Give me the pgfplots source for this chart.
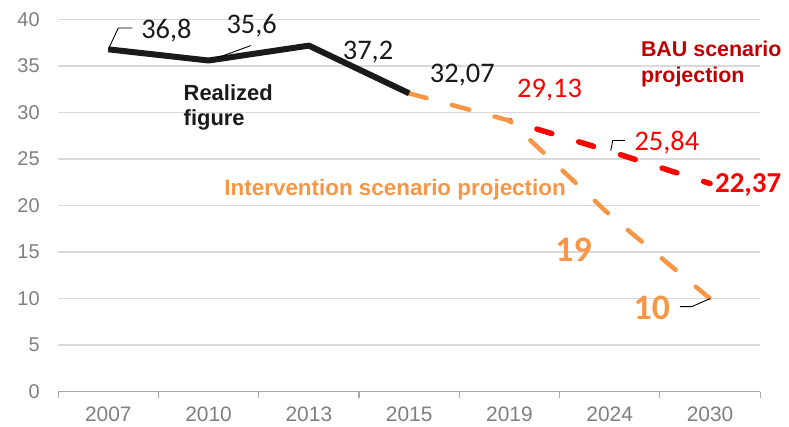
\documentclass[border=0pt]{standalone}
\usepackage{pgfplots}
\pgfplotsset{compat=1.18}
\usepackage{fontspec}
\setmainfont{Liberation Sans}
\newfontfamily\calib{Carlito}
\definecolor{tickgray}{HTML}{7F7F7F}
\definecolor{gridgray}{HTML}{D9D9D9}
\definecolor{axgray}{HTML}{A6A6A6}
\definecolor{orng}{HTML}{F79646}
\definecolor{bau}{HTML}{FF0000}
\definecolor{baudark}{HTML}{C00000}
\definecolor{blk}{HTML}{1A1A1A}
\begin{document}
\begin{tikzpicture}[x=1bp,y=1bp]
\useasboundingbox (0,0) rectangle (789,426);
\begin{axis}[
  at={(58,37)}, anchor=south west,
  scale only axis, width=702bp, height=372bp,
  xmin=-0.5, xmax=6.5, ymin=0, ymax=40,
  clip=false,
  axis x line=bottom, axis y line=left,
  y axis line style={draw=none},
  x axis line style={-, draw=axgray, line width=1.2bp},
  xtick={0,...,6},
  xticklabels={2007,2010,2013,2015,2019,2024,2030},
  minor xtick={-0.5,0.5,...,6.5},
  major tick length=0pt,
  minor tick length=6bp,
  xtick align=outside,
  tick style={draw=axgray, line width=1.2bp},
  ytick={0,5,...,40},
  ymajorgrids,
  grid style={draw=gridgray, line width=1.3bp},
  /pgf/number format/assume math mode=true,
  xticklabel style={font=\fontsize{21}{24}\selectfont, text=tickgray, yshift=-12bp},
  yticklabel style={font=\fontsize{20}{24}\selectfont, text=tickgray, xshift=-15bp},
]
% BAU
\addplot[bau, line width=5.5bp, line cap=round, dash pattern=on 15.5bp off 28.2bp, dash phase=15bp] coordinates {(4,29.13) (5,25.84) (6,22.37)};
% Intervention
\addplot[orng, line width=4.5bp, line cap=round, dash pattern=on 18bp off 26.2bp] coordinates {(3,32.07) (4,29.13) (5,19) (6,10)};
% Realized
\addplot[blk, line width=6bp, line join=round] coordinates {(0,36.8) (1,35.6) (2,37.2) (3,32.07)};

% leader lines
\draw[black, line width=0.9bp] (axis cs:0,36.8) -- (axis cs:0.1,39.1) -- (axis cs:0.24,39.1);
\draw[black, line width=0.9bp] (axis cs:1.09,35.9) -- (axis cs:1.42,37.2);
\draw[black, line width=0.9bp] (axis cs:5.01,25.9) -- (axis cs:5.03,27.0) -- (axis cs:5.15,27.0);
\draw[black, line width=0.9bp] (axis cs:5.70,9.14) -- (axis cs:5.82,9.14) -- (axis cs:6.0,10.0);

% value labels
\node[font=\calib\fontsize{28.5}{30}\selectfont, text=blk] at (axis cs:0.58,38.8) {36,8};
\node[font=\calib\fontsize{28.5}{30}\selectfont, text=blk] at (axis cs:1.43,39.35) {35,6};
\node[font=\calib\fontsize{28.5}{30}\selectfont, text=blk] at (axis cs:2.59,36.45) {37,2};
\node[font=\calib\fontsize{28.5}{30}\selectfont, text=blk] at (axis cs:3.53,34.0) {32,07};
\node[font=\calib\fontsize{28.5}{30}\selectfont, text=bau] at (axis cs:4.40,32.4) {29,13};
\node[font=\calib\fontsize{28.5}{30}\selectfont, text=bau] at (axis cs:5.57,26.8) {25,84};
\node[font=\calib\bfseries\fontsize{29}{30}\selectfont, text=bau] at (axis cs:6.38,22.26) {22,37};
\node[font=\calib\bfseries\fontsize{36}{38}\selectfont, text=orng] at (axis cs:4.64,15.2) {19};
\node[font=\calib\bfseries\fontsize{36}{38}\selectfont, text=orng] at (axis cs:5.42,9.0) {10};

% series labels
\node[font=\bfseries\fontsize{22}{25}\selectfont, text=blk, anchor=west, align=left, inner sep=0pt] at (axis cs:0.75,30.6) {Realized\\figure};
\node[font=\bfseries\fontsize{21.5}{26}\selectfont, text=baudark, anchor=west, align=left, inner sep=0pt] at (axis cs:5.31,35.2) {BAU scenario\\projection};
\node[font=\bfseries\fontsize{22.5}{25}\selectfont, text=orng, inner sep=0pt] at (axis cs:2.86,21.7) {Intervention scenario projection};
\end{axis}
\end{tikzpicture}
\end{document}
